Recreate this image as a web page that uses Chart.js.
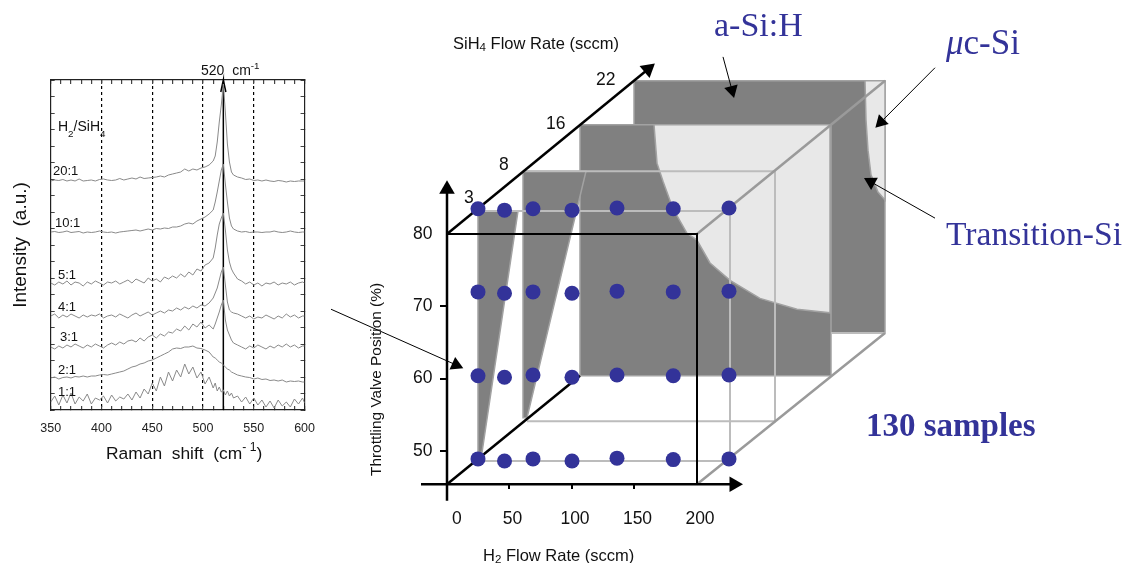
<!DOCTYPE html>
<html>
<head>
<meta charset="utf-8">
<script src="https://cdn.jsdelivr.net/npm/chart.js@4/dist/chart.umd.min.js"></script>
<style>
  html, body { margin: 0; background: #fff; overflow: hidden; }
  canvas { position: absolute; top: 0; }
  #raman { left: 0; }
  #phase { left: 330px; }
</style>
</head>
<body>
<canvas id="raman" width="330" height="563"></canvas>
<canvas id="phase" width="794" height="563"></canvas>
<script>
// Raman spectra (offset intensity, a.u.)
const ramanShift = [350,354,358,362,366,370,374,378,382,386,390,394,398,402,406,410,414,418,422,426,430,434,438,442,446,450,454,458,462,466,470,474,478,482,486,490,494,498,502,506,
  510,512,514,516,518,520,522,524,526,528,530,
  534,538,542,546,550,554,558,562,566,570,574,578,582,586,590,594,598,600];
const ratio20 = [229,230,229.5,230.5,229,230,229,231,229,229.5,230,229,230.5,231,230,229.5,230,231.5,230,231,232,231,233,231.5,232,232.5,233,234,233,235,236,237,238,241,239,241,240,242,243,245,
  249,254,268,288,305,326,298,266,248,238,235,
  233,232,230.5,231,229.5,230,229,230,229,228.5,229.5,229,228,229,228.5,229,229,229];
const ratio10 = [178,178.5,177.5,178,179,177.5,178,178.5,177,178,177.5,178,179,178,177.5,178,177,178,178.5,179,179.5,180,179,180,181,180,181.5,181,182,181.5,183,183,184,186,187,186,189,191,193,196,
  200,208,218,229,240,246,226,208,192,184,181,
  179,178,178.5,177.5,178,178,177.5,178,178,179,178,177.5,178,179,178,177.5,178,178];
const ratio5 = [127,125,128,126,129,125,128,127,124,128,126,129,127,125,128,127,129,126,128,130,127,131,129,127,132,129,131,128,133,131,134,132,136,133,138,135,141,139,145,147,
  152,162,175,186,192,197,180,160,148,141,137,
  131,129,126,128,125,127,124,127,126,128,125,127,126,128,125,127,128,127];
const ratio4 = [94,96,92,95,93,96,94,92,95,93,95,94,96,92,94,95,93,96,94,92,95,97,94,96,98,95,97,99,97,100,99,102,100,103,101,104,102,105,104,107,
  112,117,122,130,138,143,125,108,100,98,97,
  96,94,92,94,91,93,92,95,93,91,94,92,96,93,95,92,94,94];
const ratio3 = [63,61,64,62,65,63,66,64,62,65,63,66,64,62,65,67,65,68,66,69,70,68,72,69,73,75,72,76,74,78,77,81,79,84,80,86,83,88,82,85,
  81,86,92,98,105,110,90,80,75,70,67,
  65,63,61,64,62,65,63,61,64,62,65,63,66,63,65,62,64,64];
const ratio2 = [32,33,31,32.5,33,32,33.5,33,34,33,34,34,35,35.5,35,36,37,38,39,41,43,44,46,47,49,50,52,54,56,58,61,62,61.5,63,63,64,62,61.5,60,58,
  53,52,50,48,47,45,43,41,40,38,37,
  35,34,33,32.5,31,32,30.5,31,29.5,30,29,30,28,29,28.5,29,28,28];
const ratio1 = [8,14,5,15,7,17,6,13,9,16,6,12,10,14,7,15,9,13,11,16,10,18,12,21,16,27,19,33,24,38,29,40,33,46,36,43,32,38,26,33,
  22,27,19,23,18,20,15,19,14,17,12,
  14,8,13,6,12,5,10,3,9,2,10,4,8,3,11,6,12,7];
const ramanSeries = [ratio20, ratio10, ratio5, ratio4, ratio3, ratio2, ratio1];
const ramanTicks = [350,360,370,380,390,400,410,420,430,440,450,460,470,480,490,500,510,520,530,540,550,560,570,580,590,600];
const ramanGuides = [400, 450, 500, 550];
const peakShift = 520;

// process window: H2 flow (sccm) against throttling valve position (%)
const flowTicks = [0, 50, 100, 150, 200];
const valveTicks = [50, 60, 70, 80];
const sampleFlow = [24.8, 46, 68.8, 100, 136, 181, 225.6];
const sampleRow1 = [83.5, 83.3, 83.5, 83.3, 83.6, 83.5, 83.6];
const sampleRow2 = [72, 71.8, 72, 71.8, 72.1, 72, 72.1];
const sampleRow3 = [60.4, 60.2, 60.5, 60.2, 60.5, 60.4, 60.5];
const sampleRow4 = [48.9, 48.6, 48.9, 48.6, 49, 48.8, 48.9];

// regions, as [flow, valve] outlines
const panel22 = [[149.6,101.2],[350.4,101.2],[350.4,66.3],[149.6,66.3]];
const micro22 = [[334.4,101.2],[335.2,95.8],[336.8,91.6],[339.2,88.2],[344.8,85.8],[350.4,84.7],[350.4,101.2]];
const panel16 = [[106.4,95.1],[307.2,95.1],[307.2,60.4],[106.4,60.4]];
const micro16 = [[165.6,95.1],[168,89.8],[172.8,87.3],[180.8,83.5],[192,80.1],[199.8,79.2],[210.4,76],[226.4,73.6],[250.4,71.1],[280,69.6],[306.4,69.1],[306.4,95.1]];
const panel8 = [[60.8,88.7],[111.2,88.7],[64,54.6],[60.8,54.6]];
const panel3 = [[24.8,83.2],[56.8,83.2],[28,49.8],[24.8,49.8]];

const wireLines = [
  [[60.8,88.7],[262.4,88.7],[262.4,54.1],[64,54.1]],
  [[24.8,83.2],[226.4,83.2],[226.4,48.6],[24.8,48.6]],
  [[307.2,66.3],[350.4,66.3]]
];
const boxDiagonals = [
  [[200,80],[350.4,101.2]],
  [[200,45.4],[350.4,66.3]]
];
const boxEdges = [
  [[0,80],[200,80],[200,45.4]],
  [[0,45.4],[106.4,60.4]]
];
// [tail, head, head rotation in degrees]
const axisArrows = [
  [[-20.8,45.4],[229.6,45.4],90],
  [[0,43.1],[0,86.2],0],
  [[0,80],[160.8,102.8],50]
];
const noteArrows = [
  [[220.8,104.5],[228,99.9],165],
  [[390.4,103],[347.2,95.5],225],
  [[390.4,82.2],[339.2,87.2],299],
  [[-92.8,69.6],[7.2,61.9],114]
];

const BLUE = '#333399';
const SANS = '"Liberation Sans", Arial, sans-serif';
const SERIF = '"Liberation Serif", "Times New Roman", serif';

// [text, scale, baseline shift]
const ramanNotes = [
  { x: 201, y: 75, font: SANS, size: 14, runs: [['520  cm', 1, 0], ['-1', 0.7, -6]] },
  { x: 58, y: 131, font: SANS, size: 14, runs: [['H', 1, 0], ['2', 0.7, 6], ['/SiH', 1, 0], ['4', 0.7, 6]] },
  { x: 53, y: 175, font: SANS, size: 13, runs: [['20:1', 1, 0]] },
  { x: 55, y: 227, font: SANS, size: 13, runs: [['10:1', 1, 0]] },
  { x: 58, y: 279, font: SANS, size: 13, runs: [['5:1', 1, 0]] },
  { x: 58, y: 311, font: SANS, size: 13, runs: [['4:1', 1, 0]] },
  { x: 60, y: 341, font: SANS, size: 13, runs: [['3:1', 1, 0]] },
  { x: 58, y: 374, font: SANS, size: 13, runs: [['2:1', 1, 0]] },
  { x: 58, y: 396, font: SANS, size: 13, runs: [['1:1', 1, 0]] },
  { x: 106, y: 459, font: SANS, size: 17.4, runs: [['Raman  shift  (cm', 1, 0], ['-', 0.7, -8], [' 1', 0.7, -8], [')', 1, 0]] }
];
const phaseNotes = [
  { x: 123, y: 49, font: SANS, size: 16.5, runs: [['SiH', 1, 0], ['4', 0.7, 2], [' Flow Rate (sccm)', 1, 0]] },
  { x: 153, y: 561, font: SANS, size: 16.5, runs: [['H', 1, 0], ['2', 0.7, 2], [' Flow Rate (sccm)', 1, 0]] },
  { x: 51, y: 476, font: SANS, size: 15.4, rotate: -90, runs: [['Throttling Valve Position (%)', 1, 0]] },
  { x: 134, y: 203, font: SANS, size: 17.5, runs: [['3', 1, 0]] },
  { x: 169, y: 170, font: SANS, size: 17.5, runs: [['8', 1, 0]] },
  { x: 216, y: 129, font: SANS, size: 17.5, runs: [['16', 1, 0]] },
  { x: 266, y: 85, font: SANS, size: 17.5, runs: [['22', 1, 0]] },
  { x: 122, y: 524, font: SANS, size: 17.5, runs: [['0', 1, 0]] },
  { x: 384, y: 36, font: SERIF, size: 34, color: BLUE, runs: [['a-Si:H', 1, 0]] },
  { x: 616, y: 54, font: SERIF, size: 35, color: BLUE, runs: [['\u03bc', 1, 0, 'italic'], ['c-Si', 1, 0]] },
  { x: 616, y: 245, font: SERIF, size: 33.6, color: BLUE, runs: [['Transition-Si', 1, 0]] },
  { x: 536, y: 436, font: SERIF, size: 33, color: BLUE, runs: [['130 samples', 1, 0, 'bold']] }
];

function notesPlugin(notes) {
  return {
    id: 'notes',
    afterDraw(chart) {
      const ctx = chart.ctx;
      notes.forEach(n => {
        ctx.save();
        ctx.translate(n.x, n.y);
        if (n.rotate) ctx.rotate(n.rotate * Math.PI / 180);
        ctx.fillStyle = n.color || '#111';
        ctx.textBaseline = 'alphabetic';
        let x = 0;
        n.runs.forEach(r => {
          ctx.font = (r[3] ? r[3] + ' ' : '') + (n.size * r[1]) + 'px ' + n.font;
          ctx.fillText(r[0], x, r[2]);
          x += ctx.measureText(r[0]).width;
        });
        ctx.restore();
      });
    }
  };
}

function toPoints(list) {
  return list.map(p => ({ x: p[0], y: p[1] }));
}

// left panel
const ramanSets = ramanSeries.map(values => ({
  data: values.map((v, i) => ({ x: ramanShift[i], y: v })),
  borderColor: '#8a8a8a',
  borderWidth: 1,
  pointRadius: 0,
  showLine: true,
  tension: 0
}));
ramanSets.push({
  data: toPoints([[peakShift,0],[peakShift,330],[peakShift-2.5,318],[peakShift,330],[peakShift+2.5,318]]),
  borderColor: '#000',
  borderWidth: 1.5,
  pointRadius: 0,
  showLine: true,
  clip: false
});

function ramanX(position, labels) {
  return {
    type: 'linear',
    position: position,
    min: 350,
    max: 600,
    afterBuildTicks: s => { s.ticks = ramanTicks.map(v => ({ value: v })); },
    afterFit: s => { s.height = position === 'bottom' ? 153 : 0; },
    border: { display: true, color: '#222', width: 1.2, dash: [3, 3] },
    grid: {
      drawOnChartArea: labels,
      tickLength: -4,
      tickColor: '#444',
      tickBorderDash: [],
      color: c => ramanGuides.includes(c.tick.value) ? '#000' : 'rgba(0,0,0,0)',
      lineWidth: 1.2
    },
    ticks: {
      display: labels,
      autoSkip: false,
      maxRotation: 0,
      padding: 15,
      color: '#222',
      font: { family: SANS, size: 12.5 },
      callback: v => (v % 50 === 0 ? String(v) : '')
    }
  };
}
function ramanY(position, labels) {
  return {
    type: 'linear',
    position: position,
    min: 0,
    max: 330,
    afterFit: s => { s.width = position === 'left' ? 50.7 : 0; },
    border: { display: true, color: '#222', width: 1.2 },
    grid: { drawOnChartArea: false, tickLength: -4, tickColor: '#444' },
    ticks: { display: false, stepSize: 16.5, autoSkip: false },
    title: {
      display: labels,
      text: 'Intensity  (a.u.)',
      color: '#111',
      padding: { top: 9, bottom: 0 },
      font: { family: SANS, size: 19 }
    }
  };
}

new Chart(document.getElementById('raman'), {
  type: 'scatter',
  data: { datasets: ramanSets },
  options: {
    responsive: false,
    animation: false,
    layout: { padding: { top: 80, right: 25, left: 0, bottom: 0 } },
    plugins: { legend: { display: false }, tooltip: { enabled: false } },
    scales: {
      x: ramanX('bottom', true),
      xTop: ramanX('top', false),
      y: ramanY('left', true),
      yRight: ramanY('right', false)
    }
  },
  plugins: [notesPlugin(ramanNotes)]
});

// right panel, datasets listed from back to front
const phaseSets = [];
function addRegion(outline, fillColor, edgeColor) {
  phaseSets.push({
    data: toPoints(outline.concat([outline[0]])),
    showLine: true, fill: 'shape', backgroundColor: fillColor,
    borderColor: edgeColor, borderWidth: 1.5, pointRadius: 0, tension: 0
  });
}
function addLine(line, color, width) {
  phaseSets.push({
    data: toPoints(line),
    showLine: true, fill: false, borderColor: color, borderWidth: width,
    pointRadius: 0, tension: 0
  });
}
function addArrow(arrow, width, headSize) {
  phaseSets.push({
    data: toPoints([arrow[0], arrow[1]]),
    showLine: true, fill: false, borderColor: '#000', borderWidth: width,
    backgroundColor: '#000',
    pointStyle: 'triangle',
    pointRotation: arrow[2],
    pointBorderWidth: 0,
    pointRadius: c => (c.dataIndex === 1 ? headSize : 0),
    tension: 0
  });
}

addRegion(panel22, '#808080', '#a2a2a2');
addRegion(micro22, '#e8e8e8', '#a2a2a2');
addRegion(panel16, '#808080', '#a2a2a2');
addRegion(micro16, '#e8e8e8', '#a2a2a2');
addRegion(panel8, '#808080', '#a2a2a2');
addRegion(panel3, '#808080', '#a2a2a2');
wireLines.forEach(l => addLine(l, '#bcbcbc', 2));
boxDiagonals.forEach(l => addLine(l, '#9a9a9a', 2.5));
addLine(boxEdges[0], '#000', 2);
addLine(boxEdges[1], '#000', 2.5);
axisArrows.forEach(a => addArrow(a, 2.5, 9));
noteArrows.forEach(a => addArrow(a, 1, 8));
[sampleRow1, sampleRow2, sampleRow3, sampleRow4].forEach(row => {
  phaseSets.push({
    data: row.map((v, i) => ({ x: sampleFlow[i], y: v })),
    showLine: false, backgroundColor: BLUE, borderWidth: 0, pointRadius: 7.5
  });
});
phaseSets.forEach((d, i) => { d.order = phaseSets.length - i; d.clip = false; });

// axes cross inside the plot, so they must not take any room from it
function noRoom(s) {
  s.width = 0;
  s.height = 0;
  s.paddingLeft = s.paddingRight = s.paddingTop = s.paddingBottom = 0;
}

new Chart(document.getElementById('phase'), {
  type: 'scatter',
  data: { datasets: phaseSets },
  options: {
    responsive: false,
    animation: false,
    plugins: { legend: { display: false }, tooltip: { enabled: false } },
    layout: { padding: 0, autoPadding: false },
    scales: {
      x: {
        type: 'linear',
        min: -93.6,
        max: 541.6,
        position: { y: 45.4 },
        afterBuildTicks: s => { s.ticks = flowTicks.map(v => ({ value: v })); },
        afterFit: noRoom,
        border: { display: false },
        grid: {
          drawOnChartArea: false,
          tickLength: 5,
          lineWidth: 2,
          tickColor: c => (c.tick.value === 0 || c.tick.value === 200 ? 'rgba(0,0,0,0)' : '#000')
        },
        ticks: {
          autoSkip: false,
          maxRotation: 0,
          padding: 19,
          labelOffset: 3,
          color: '#111',
          font: { family: SANS, size: 17.5 },
          callback: v => (v === 0 ? '' : String(v))
        }
      },
      y: {
        type: 'linear',
        min: 34.5,
        max: 112.37,
        position: { x: 0 },
        afterBuildTicks: s => { s.ticks = valveTicks.map(v => ({ value: v })); },
        afterFit: noRoom,
        border: { display: false },
        grid: {
          drawOnChartArea: false,
          tickLength: 7,
          lineWidth: 2,
          tickColor: c => (c.tick.value === 80 ? 'rgba(0,0,0,0)' : '#000')
        },
        ticks: {
          autoSkip: false,
          color: '#111',
          font: { family: SANS, size: 17.5 },
          // labels sit flush on an axis placed inside the plot, nbsp keeps them clear of the ticks
          callback: v => v + '\u00a0\u00a0\u00a0'
        }
      }
    }
  },
  plugins: [notesPlugin(phaseNotes)]
});
</script>
</body>
</html>
